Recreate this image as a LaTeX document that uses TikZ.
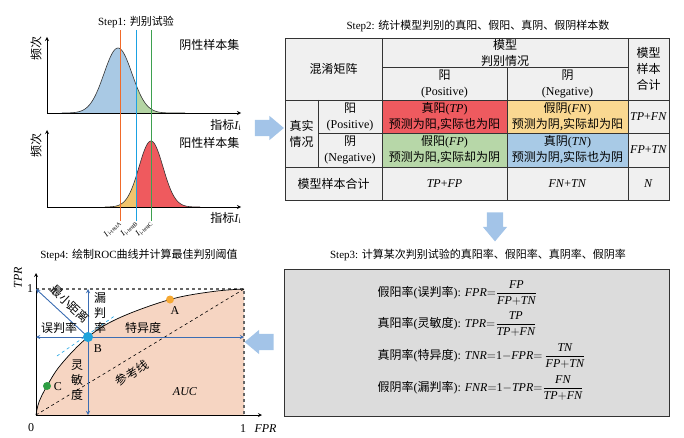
\documentclass[tikz,border=0pt]{standalone}
\usepackage{amsmath}
\usepackage{fontspec}
\setmainfont{Liberation Serif}
\newfontfamily\cjk{Noto Sans CJK SC}
\newcommand{\zh}[1]{{\cjk #1}}
\usetikzlibrary{shapes.arrows}

\definecolor{negblue}{HTML}{A9C9E4}
\definecolor{neggreen}{HTML}{B4D4A4}
\definecolor{posred}{HTML}{EF5A5E}
\definecolor{posyellow}{HTML}{F1C46C}
\definecolor{cutA}{HTML}{F06A2A}
\definecolor{cutB}{HTML}{1BA1E2}
\definecolor{cutC}{HTML}{3DA04F}
\definecolor{tabgrey}{HTML}{F0F0F0}
\definecolor{tabline}{HTML}{333333}
\definecolor{cellred}{HTML}{EE5A5F}
\definecolor{cellyellow}{HTML}{FAD891}
\definecolor{cellgreen}{HTML}{B7D7A8}
\definecolor{cellblue}{HTML}{A8CAE6}
\definecolor{boxgrey}{HTML}{DCDCDC}
\definecolor{flowblue}{HTML}{A3C4E8}
\definecolor{rocblue}{HTML}{3B6DB3}
\definecolor{aucfill}{HTML}{F6D5C2}
\definecolor{dotA}{HTML}{F5A833}
\definecolor{dotB}{HTML}{1EA3DC}
\definecolor{dotC}{HTML}{2E9E44}

\tikzset{
  steptitle/.style={font=\fontsize{11}{13}\selectfont},
  axis/.style={->, line width=0.8pt},
  curve/.style={line width=0.6pt, black!80},
  cell/.style={align=center, inner sep=0pt, font=\fontsize{12}{16}\selectfont},
  flow/.style={single arrow, fill=flowblue, draw=none, inner sep=8pt,
    minimum height=29pt, single arrow head extend=4pt, single arrow tip angle=80},
  rocarrow/.style={<->, draw=rocblue, line width=0.9pt},
  dot/.style={circle, inner sep=0pt, minimum size=#1},
  stack/.style={align=center, inner sep=0pt, font=\fontsize{12}{15}\selectfont},
}

\begin{document}
\begin{tikzpicture}[x=1pt, y=-1pt, >=stealth, font=\fontsize{12}{14}\selectfont,
  declare function={negcurve(\x)=113-65*exp(-0.5*pow((\x-118)/14,2));
                    poscurve(\x)=207-66*exp(-0.5*pow((\x-151)/12,2));}]
\useasboundingbox (0,0) rectangle (684,438);

% Step1: distributions
\node[steptitle] (title1) at (136,22) {Step1: \zh{判别试验}};
\coordinate (negO) at (47,113);
\coordinate (posO) at (47,207);
\fill[negblue] (60,113) -- plot[domain=60:136.5, samples=60] (\x,{negcurve(\x)}) -- (136.5,113) -- cycle;
\fill[neggreen] (136.5,113) -- plot[domain=136.5:185, samples=40] (\x,{negcurve(\x)}) -- (185,113) -- cycle;
\draw[curve] plot[domain=62:185, samples=100] (\x,{negcurve(\x)});
\fill[posyellow] (105,207) -- plot[domain=105:136.5, samples=40] (\x,{poscurve(\x)}) -- (136.5,207) -- cycle;
\fill[posred] (136.5,207) -- plot[domain=136.5:200, samples=60] (\x,{poscurve(\x)}) -- (200,207) -- cycle;
\draw[curve] plot[domain=105:200, samples=100] (\x,{poscurve(\x)});
\draw[axis] (negO) -- (241,113);
\draw[axis] (negO) -- (47,37);
\draw[axis] (posO) -- (241,207);
\draw[axis] (posO) -- (47,130);
\node[rotate=90] (freqNeg) at (36,49) {\zh{频次}};
\node[rotate=90] (freqPos) at (36,146) {\zh{频次}};
\node[anchor=east] (negSet) at (243,45) {\zh{阴性样本集}};
\node[anchor=east] (posSet) at (243,143) {\zh{阳性样本集}};
\node[anchor=east] (idxNeg) at (245,125) {\zh{指标}\textit{I}\textsubscript{i}};
\node[anchor=east] (idxPos) at (245,218) {\zh{指标}\textit{I}\textsubscript{i}};
\foreach \xc/\nm in {120/A,136.5/B,151.5/C} {
  \draw[cut\nm, line width=0.9pt] (\xc,30) -- (\xc,221) coordinate (cut\nm);
  \node[rotate=45, anchor=east, inner sep=0.5pt, font=\fontsize{8.5}{9}\selectfont] (lab\nm)
    at (cut\nm) {\textit{I}\textsubscript{i-test\nm}};
}

% flow arrows
\node[flow] (toStep2) at (264.5,128) {};
\node[flow, rotate=-90] (toStep3) at (495,222) {};
\node[flow, rotate=180] (toStep4) at (264,342) {};

% Step2: confusion table
\node[steptitle] (title2) at (478,26) {Step2: \zh{统计模型判别的真阳、假阳、真阴、假阴样本数}};
\fill[tabgrey] (285,38) rectangle (669,200);
\fill[cellred] (382,100) rectangle (507,133);
\fill[cellyellow] (507,100) rectangle (628,133);
\fill[cellgreen] (382,133) rectangle (507,167);
\fill[cellblue] (507,133) rectangle (628,167);
\draw[tabline, line width=0.9pt] (285,38) rectangle (669,200);
\draw[tabline, line width=0.9pt] (382,67) -- (628,67);
\draw[tabline, line width=0.9pt] (285,100) -- (669,100);
\draw[tabline, line width=0.9pt] (318,133) -- (669,133);
\draw[tabline, line width=0.9pt] (285,167) -- (669,167);
\draw[tabline, line width=0.9pt] (318,100) -- (318,167);
\draw[tabline, line width=0.9pt] (382,38) -- (382,200);
\draw[tabline, line width=0.9pt] (507,67) -- (507,200);
\draw[tabline, line width=0.9pt] (628,38) -- (628,200);
\node[cell] (confusion) at (333.5,69) {\zh{混淆矩阵}};
\node[cell] (judge) at (505,52.5) {\zh{模型}\\\zh{判别情况}};
\node[cell] (rowsum) at (648.5,69) {\zh{模型}\\\zh{样本}\\\zh{合计}};
\node[cell] (predPos) at (444.5,84) {\zh{阳}\\(Positive)};
\node[cell] (predNeg) at (567.5,84) {\zh{阴}\\(Negative)};
\node[cell] (truth) at (301.5,133.5) {\zh{真实}\\\zh{情况}};
\node[cell] (truePos) at (350,117) {\zh{阳}\\(Positive)};
\node[cell] (trueNeg) at (350,150) {\zh{阴}\\(Negative)};
\node[cell] (TP) at (444.5,117) {\zh{真阳}(\textit{TP})\\\zh{预测为阳,实际也为阳}};
\node[cell] (FN) at (567.5,117) {\zh{假阴}(\textit{FN})\\\zh{预测为阴,实际却为阳}};
\node[cell] (FP) at (444.5,150) {\zh{假阳}(\textit{FP})\\\zh{预测为阳,实际却为阴}};
\node[cell] (TN) at (567.5,150) {\zh{真阴}(\textit{TN})\\\zh{预测为阴,实际也为阴}};
\node[cell] (sumP) at (648.5,117) {\textit{TP}+\textit{FN}};
\node[cell] (sumN) at (648.5,150) {\textit{FP}+\textit{TN}};
\node[cell] (colsum) at (333.5,184) {\zh{模型样本合计}};
\node[cell] (sumTPFP) at (444.5,184) {\textit{TP}+\textit{FP}};
\node[cell] (sumFNTN) at (567.5,184) {\textit{FN}+\textit{TN}};
\node[cell] (total) at (648.5,184) {\textit{N}};

% Step3: rates
\node[steptitle] (title3) at (478,255) {Step3: \zh{计算某次判别试验的真阳率、假阳率、真阴率、假阴率}};
\draw[fill=boxgrey, draw=tabline, line width=0.9pt] (284,269) rectangle (669,416);
\node[anchor=west] (fpr) at (374,293) {\zh{假阳率}(\zh{误判率}): $\textit{FPR}{=}\dfrac{\textit{FP}}{\textit{FP}{+}\textit{TN}}$};
\node[anchor=west] (tpr) at (374,324) {\zh{真阳率}(\zh{灵敏度}): $\textit{TPR}{=}\dfrac{\textit{TP}}{\textit{TP}{+}\textit{FN}}$};
\node[anchor=west] (tnr) at (374,356) {\zh{真阴率}(\zh{特异度}): $\textit{TNR}{=}\textup{1}{-}\textit{FPR}{=}\,\dfrac{\textit{TN}}{\textit{FP}{+}\textit{TN}}$};
\node[anchor=west] (fnr) at (374,388) {\zh{假阴率}(\zh{漏判率}): $\textit{FNR}{=}\textup{1}{-}\textit{TPR}{=}\dfrac{\textit{FN}}{\textit{TP}{+}\textit{FN}}$};

% Step4: ROC
\node[steptitle] (title4) at (139,255) {Step4: \zh{绘制}ROC\zh{曲线并计算最佳判别阈值}};
\coordinate (O) at (36,415);
\coordinate (topL) at (36,289);
\coordinate (topR) at (244,289);
\coordinate (botR) at (244,415);
\coordinate (B) at (88,337);
\fill[aucfill] (O) -- plot[smooth, tension=0.6] coordinates {(39,402) (47,386) (61,364.5) (88,337) (119,318) (170,299.5) (213,291.5)} -- (topR) -- (botR) -- cycle;
\draw[dashed, black!60, line width=1.1pt] (topL) -- (topR) -- (botR);
\draw[line width=0.7pt] plot[smooth, tension=0.6] coordinates {(36,415) (39,402) (47,386) (61,364.5) (88,337) (119,318) (170,299.5) (213,291.5) (244,289)};
\draw[dashed, line width=0.6pt] (O) -- (topR);
\draw[dashed, cutB, line width=0.6pt] (57,356) -- (116,315);
\draw[axis] (O) -- (262,415);
\draw[axis] (O) -- (36,273);
\draw[rocarrow] (topL) -- (B);
\draw[rocarrow] (88,289) -- (B);
\draw[rocarrow] (B) -- (88,415);
\draw[rocarrow] (36,337) -- (B);
\draw[rocarrow] (B) -- (244,337);
\node[dot=8pt, fill=dotA] (ptA) at (170,299.5) {};
\node[dot=10pt, fill=dotB] (ptB) at (B) {};
\node[dot=8pt, fill=dotC] (ptC) at (47,386) {};
\node (labA) at (175,311) {A};
\node (labB) at (98,349) {B};
\node (labC) at (58,387) {C};
\node[rotate=90] (tprAxis) at (18,278) {\textit{TPR}};
\node (one1) at (30,289) {1};
\node (zero) at (31,428) {0};
\node (one2) at (243,429) {1};
\node[anchor=west] (fprAxis) at (251,429) {\textit{FPR}};
\node (misjudge) at (59,328) {\zh{误判率}};
\node (specific) at (143,328) {\zh{特异度}};
\node[stack] (missrate) at (100,313) {\zh{漏}\\\zh{判}\\\zh{率}};
\node[stack] (sensitive) at (77,380) {\zh{灵}\\\zh{敏}\\\zh{度}};
\node[rotate=-43, inner sep=0pt] (mindist) at (70,304) {\zh{最小距离}};
\node[rotate=31, inner sep=0pt] (refline) at (132,373) {\zh{参考线}};
\node (auc) at (185,392) {\textit{AUC}};
\end{tikzpicture}
\end{document}
